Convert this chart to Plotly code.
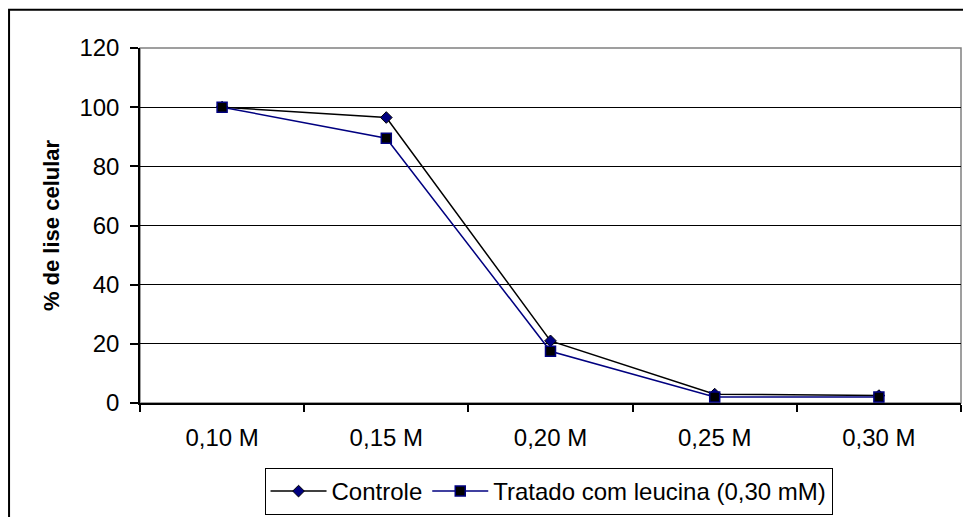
import plotly.graph_objects as go

# Concentrações de NaCl (categorias do eixo x)
categorias = ["0,10 M", "0,15 M", "0,20 M", "0,25 M", "0,30 M"]

# % de lise celular por série
controle = [100, 96.5, 21, 3, 2.5]
tratado = [100, 89.5, 17.5, 2, 2]

y_ticks = [0, 20, 40, 60, 80, 100, 120]

NAVY = "#000080"
FONT = "Liberation Sans, Arial, sans-serif"

fig = go.Figure()

fig.add_trace(go.Scatter(
    x=categorias, y=controle, name="Controle",
    mode="lines+markers",
    line=dict(color="black", width=1.5),
    marker=dict(symbol="diamond", size=9, color=NAVY,
                line=dict(color="black", width=1)),
))

fig.add_trace(go.Scatter(
    x=categorias, y=tratado, name="Tratado com leucina (0,30 mM)",
    mode="lines+markers",
    line=dict(color=NAVY, width=1.5),
    marker=dict(symbol="square", size=10, color="black",
                line=dict(color=NAVY, width=1.5)),
))

fig.update_layout(
    width=963, height=517,
    margin=dict(l=140, r=2, t=48, b=114, autoexpand=False),
    paper_bgcolor="white", plot_bgcolor="white",
    font=dict(family=FONT, size=24, color="black"),
    showlegend=True,
    legend=dict(
        orientation="h",
        x=0.4976, xanchor="center",
        y=-0.3155, yanchor="bottom",
        itemwidth=56,
        bordercolor="black", borderwidth=1,
        bgcolor="white",
        font=dict(family=FONT, size=24, color="black"),
        itemclick=False, itemdoubleclick=False,
    ),
)

fig.update_xaxes(
    type="category",
    range=[-0.5, len(categorias) - 0.5],
    tickson="boundaries",
    ticks="outside", ticklen=7, tickwidth=1.5, tickcolor="black",
    showline=True, linecolor="black", linewidth=1.5,
    showgrid=False, zeroline=False,
    ticklabelstandoff=12,
)

fig.update_yaxes(
    range=[0, 120],
    tickvals=y_ticks,
    ticks="outside", ticklen=8, tickwidth=1.5, tickcolor="black",
    showline=True, linecolor="black", linewidth=1.5,
    showgrid=True, gridcolor="black", gridwidth=1,
    zeroline=False,
    ticklabelstandoff=6,
    title=dict(text="<b>% de lise celular</b>", standoff=14,
               font=dict(family=FONT, size=22, color="black")),
)

# Moldura da área de plotagem (topo e direita em cinza)
fig.add_shape(type="rect", xref="paper", yref="paper",
              x0=0, x1=1, y0=0, y1=1,
              line=dict(color="#808080", width=1.5), layer="below")

# Moldura externa do gráfico
fig.add_shape(type="rect", xref="paper", yref="paper",
              x0=-0.1595, x1=1.2, y0=-0.5, y1=1.108,
              line=dict(color="black", width=2), layer="above")

fig.write_html("out.html")
